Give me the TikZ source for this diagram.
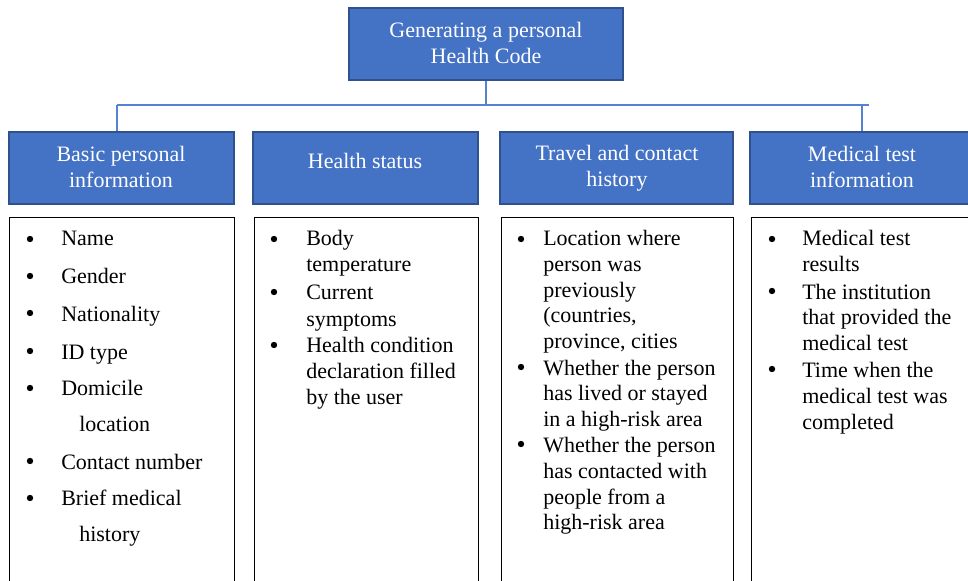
\documentclass[tikz,border=0pt]{standalone}
\usepackage{fontspec}
\setmainfont{Liberation Serif}
\usetikzlibrary{fit}
\definecolor{hdrfill}{HTML}{4472C4}
\definecolor{hdrborder}{HTML}{2F528F}
\definecolor{linkc}{HTML}{5583D2}
\newcommand{\myfont}{\fontsize{16.5}{19.5}\selectfont}
\tikzset{
  hdr/.style={draw=hdrborder, line width=1.1pt, fill=hdrfill, inner sep=0pt},
  hdrtext/.style={text=white, align=center, font=\myfont, inner sep=0pt},
  listbox/.style={draw=black, line width=0.6pt, inner sep=0pt},
  item/.style={anchor=base west, inner sep=0pt, font=\myfont, yshift=-6pt},
  dot/.style={circle, fill=black, inner sep=0pt, minimum size=4.8pt},
  link/.style={draw=linkc, line width=0.9pt}
}
\begin{document}
\begin{tikzpicture}[x=0.75pt,y=-0.75pt]
\useasboundingbox (0,0) rectangle (968,581);
\clip (0,0) rectangle (968,581);
% top box
\node[hdr, fit={(349,8) (623,80)}] (top) {};
\node[hdrtext] (ttop) at (486,43) {Generating a personal\\Health Code};
% header boxes
\node[hdr, fit={(9,132) (234,204)}] (b1) {};
\node[hdr, fit={(253,132) (478,204)}] (b2) {};
\node[hdr, fit={(500,132) (733,204)}] (b3) {};
\node[hdr, fit={(750,132) (975,204)}] (b4) {};
\node[hdrtext] (t1) at (121,167) {Basic personal\\information};
\node[hdrtext] (t2) at (365,161) {Health status};
\node[hdrtext] (t3) at (617,168) {Travel and contact\\history};
\node[hdrtext] (t4) at (862,167) {Medical test\\information};
% connectors
\coordinate (barL) at (117,105);
\coordinate (barR) at (869,105);
\coordinate (barM) at (top.south |- barL);
\coordinate (v4) at (862,105);
\draw[link] (top.south) -- (barM);
\draw[link] (barL) -- (barR);
\draw[link] (barL) -- (barL |- b1.north);
\draw[link] (v4) -- (v4 |- b4.north);
% list boxes
\node[listbox, fit={(9,217) (234,600)}] (l1) {};
\node[listbox, fit={(254,217) (478,600)}] (l2) {};
\node[listbox, fit={(501,217) (733,600)}] (l3) {};
\node[listbox, fit={(751,217) (990,600)}] (l4) {};
% bullets
\foreach \n/\x/\y in {d11/30/239, d12/30/276, d13/30/313, d14/30/351, d15/30/388, d16/30/461, d17/30/498,
  d21/274/239, d22/274/292, d23/274/345,
  d31/521/239, d32/521/367, d33/521/444,
  d41/772/239, d42/772/291, d43/772/369}
  \node[dot] (\n) at (\x,\y) {};
% box 1 text
\foreach \n/\x/\y/\t in {a1/61/238/Name, a2/61/275/Gender, a3/61/313/Nationality, a4/61/351/ID type,
  a5/61/387/Domicile, a6/79/423/location, a7/61/461/Contact number, a8/61/497/Brief medical, a9/79/533/history}
  \node[item] (\n) at (\x,\y) {\t};
% box 2 text
\foreach \n/\y/\t in {b21/238/Body, b22/264/temperature, b23/292/Current, b24/318/symptoms,
  b25/344/Health condition, b26/370/declaration filled, b27/396/by the user}
  \node[item] (\n) at (306,\y) {\t};
% box 3 text
\foreach \n/\y/\t in {c1/238/Location where, c2/264/person was, c3/289/previously, c4/314/{(countries,},
  c5/340/{province, cities}, c6/367/Whether the person, c7/392/has lived or stayed, c8/418/in a high-risk area,
  c9/444/Whether the person, c10/470/has contacted with, c11/496/people from a, c12/521/high-risk area}
  \node[item] (\n) at (543,\y) {\t};
% box 4 text
\foreach \n/\y/\t in {e1/238/Medical test, e2/264/results, e3/291/The institution, e4/317/that provided the,
  e5/342/medical test, e6/369/Time when the, e7/395/medical test was, e8/421/completed}
  \node[item] (\n) at (802,\y) {\t};
\end{tikzpicture}
\end{document}
